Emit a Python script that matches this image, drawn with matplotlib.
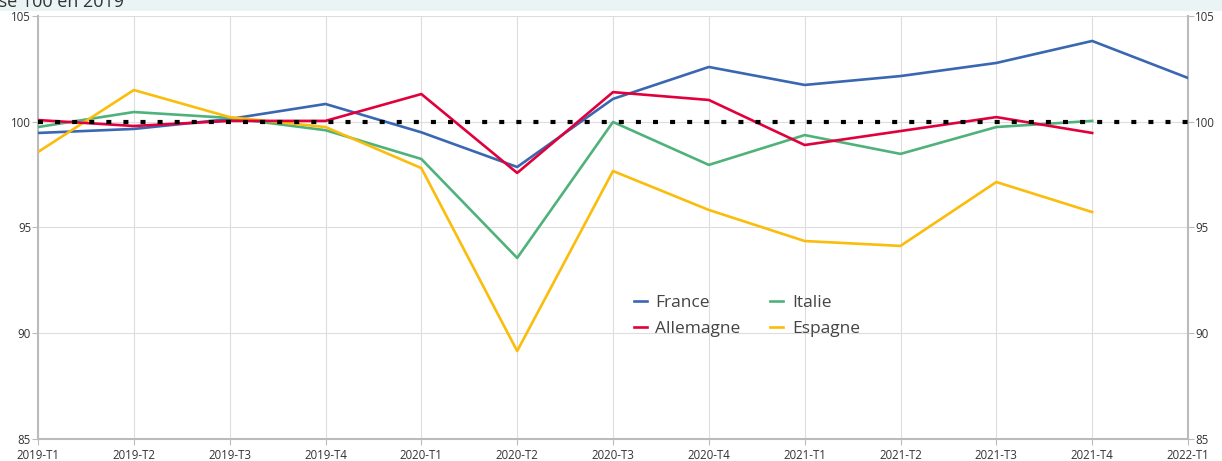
import matplotlib.pyplot as plt
import matplotlib.patches as mpatches

plt.rcParams['font.family'] = ['Open Sans', 'DejaVu Sans']

# Trimestres et indices (base 100 en 2019)
trimestres = ['2019-T1', '2019-T2', '2019-T3', '2019-T4',
              '2020-T1', '2020-T2', '2020-T3', '2020-T4',
              '2021-T1', '2021-T2', '2021-T3', '2021-T4', '2022-T1']

france = [99.47, 99.66, 100.13, 100.84, 99.50, 97.86, 101.08, 102.59,
          101.74, 102.16, 102.78, 103.82, 102.07]
allemagne = [100.08, 99.80, 100.04, 100.04, 101.31, 97.58, 101.40, 101.03,
             98.90, 99.56, 100.22, 99.47]
italie = [99.75, 100.46, 100.18, 99.60, 98.24, 93.56, 99.99, 97.96,
          99.37, 98.48, 99.75, 100.04]
espagne = [98.57, 101.50, 100.22, 99.75, 97.81, 89.16, 97.67, 95.83,
           94.36, 94.13, 97.15, 95.73]

base = 100

fig = plt.figure(figsize=(12.22, 4.61), dpi=100)

# bandeau du titre
fig.patches.append(mpatches.Rectangle((0, 1 - 11 / 461), 1, 11 / 461,
                                      transform=fig.transFigure,
                                      facecolor='#eaf4f4', edgecolor='none'))
fig.text(-23 / 1222, 1 - 7 / 461, 'Base 100 en 2019', fontsize=13, color='#333333',
         va='baseline', ha='left')

ax = fig.add_axes([38 / 1222, 22 / 461, 1150 / 1222, 423 / 461])

x = list(range(len(trimestres)))
ax.plot(x, france, color='#3a67b1', lw=1.9, label='France', zorder=3)
ax.plot(x[:len(allemagne)], allemagne, color='#e2003c', lw=1.9, label='Allemagne', zorder=4)
ax.plot(x[:len(italie)], italie, color='#4fb27a', lw=1.9, label='Italie', zorder=3)
ax.plot(x[:len(espagne)], espagne, color='#fbbd0b', lw=1.9, label='Espagne', zorder=3)

ax.axhline(base, color='black', lw=3, linestyle=(0, (1.2, 2.9)),
           dash_capstyle='butt', zorder=5)

ax.set_xlim(0, len(trimestres) - 1)
ax.set_ylim(85, 105)
ax.set_xticks(x)
ax.set_xticklabels(trimestres)
ax.set_yticks([85, 90, 95, 100, 105])
ax.grid(True, color='#dddddd', lw=0.8)
ax.set_axisbelow(True)

for s in ['left', 'right', 'bottom']:
    ax.spines[s].set_color('#bbbbbb')
    ax.spines[s].set_linewidth(1.5)
ax.spines['top'].set_visible(False)

ax.tick_params(axis='both', colors='#bbbbbb', labelcolor='#333333',
               labelsize=8.3, length=4)
ax.tick_params(axis='x', pad=3)
ax.tick_params(axis='y', pad=1)

ax2 = ax.twinx()
ax2.set_ylim(85, 105)
ax2.set_yticks([85, 90, 95, 100, 105])
ax2.tick_params(axis='y', colors='#bbbbbb', labelcolor='#333333',
                labelsize=8.3, length=4, pad=1)
for s in ax2.spines.values():
    s.set_visible(False)

handles, labels = ax.get_legend_handles_labels()
ax.legend(handles, labels, ncol=2, loc='upper left',
          bbox_to_anchor=(618 / 1222, 1 - 279 / 461), bbox_transform=fig.transFigure,
          frameon=False, fontsize=12.5, handlelength=0.75, handletextpad=0.5,
          columnspacing=1.7, labelspacing=0.6, labelcolor='#444444')

fig.savefig('out.png', dpi=100)
